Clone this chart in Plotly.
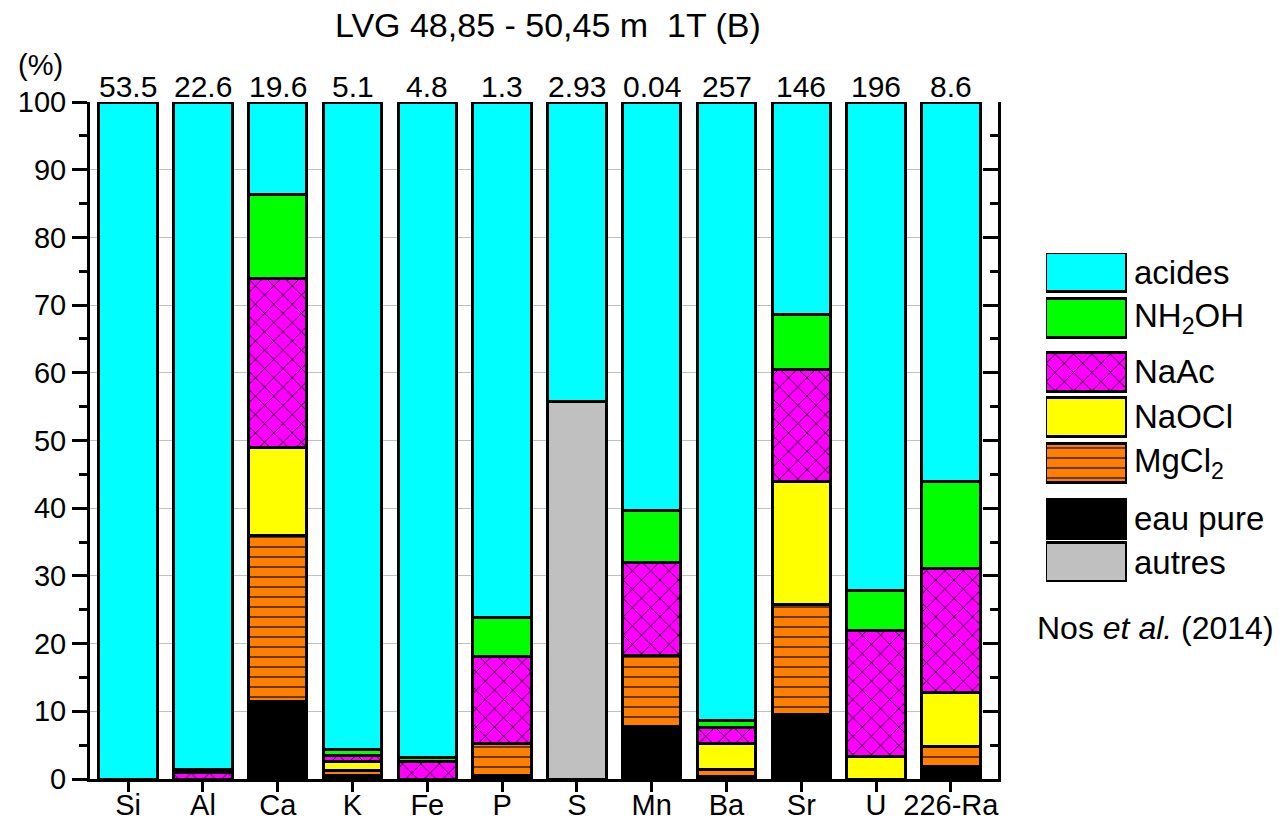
import plotly.graph_objects as go

# ---------------- data ----------------
categories = ["Si", "Al", "Ca", "K", "Fe", "P", "S", "Mn", "Ba", "Sr", "U", "226-Ra"]
total_labels = ["53.5", "22.6", "19.6", "5.1", "4.8", "1.3", "2.93", "0.04", "257", "146", "196", "8.6"]

eau_pure = [0, 0, 11.5, 0.5, 0, 0.5, 0, 7.8, 0.4, 9.6, 0, 1.8]
mgcl2 = [0, 0, 24.5, 0.8, 0, 4.8, 0, 10.5, 1.0, 16.2, 0, 3.0]
naocl = [0, 0, 13.0, 1.3, 0, 0, 0, 0, 3.8, 18.2, 3.3, 8.0]
naac = [0, 0.9, 25.0, 0.9, 2.6, 12.8, 0, 13.7, 2.4, 16.5, 18.7, 18.3]
nh2oh = [0, 0.5, 12.3, 0.9, 0.6, 5.8, 0, 7.7, 1.0, 8.1, 5.8, 12.8]
autres = [0, 0, 0, 0, 0, 0, 55.7, 0, 0, 0, 0, 0]
acides = [100, 98.6, 13.7, 95.6, 96.8, 76.1, 44.3, 60.3, 91.4, 31.4, 72.2, 56.1]

series_names = ["eau pure", "MgCl<sub>2</sub>", "NaOCl", "NaAc", "NH<sub>2</sub>OH", "autres", "acides"]
series_values = [eau_pure, mgcl2, naocl, naac, nh2oh, autres, acides]

# ---------------- styles ----------------
FONT = "Liberation Sans, Arial, Helvetica, sans-serif"
styles = {
    "eau pure": dict(color="#000000"),
    "MgCl<sub>2</sub>": dict(color="#ff8000", pattern=dict(shape="-", size=10, solidity=0.15,
                                                            fgcolor="#3a1e00", bgcolor="#ff8000", fillmode="replace")),
    "NaOCl": dict(color="#ffff00"),
    "NaAc": dict(color="#ff00ff", pattern=dict(shape="x", size=13, solidity=0.12,
                                               fgcolor="#000000", bgcolor="#ff00ff", fillmode="replace")),
    "NH<sub>2</sub>OH": dict(color="#00ff00"),
    "autres": dict(color="#c0c0c0"),
    "acides": dict(color="#00ffff"),
}

fig = go.Figure()

for name, vals in zip(series_names, series_values):
    st = styles[name]
    marker = dict(color=st["color"], line=dict(color="black", width=3))
    if "pattern" in st:
        marker["pattern"] = st["pattern"]
    fig.add_trace(go.Bar(
        x=categories,
        y=[v if v > 0 else None for v in vals],
        name=name,
        marker=marker,
        width=0.78,
        showlegend=False,
        xaxis="x", yaxis="y",
    ))

# dummy trace for right axis
fig.add_trace(go.Scatter(x=[categories[0]], y=[None], xaxis="x", yaxis="y2", showlegend=False, hoverinfo="skip"))

# ---------------- custom legend (inset axes) ----------------
legend_order = ["acides", "NH<sub>2</sub>OH", "NaAc", "NaOCl", "MgCl<sub>2</sub>", "eau pure", "autres"]
legend_centers = [272.5, 318.5, 372, 417, 463.5, 519, 562.5]
for name, yc in zip(legend_order, legend_centers):
    st = styles[name]
    marker = dict(color=st["color"], line=dict(color="black", width=3))
    if "pattern" in st:
        marker["pattern"] = st["pattern"]
    fig.add_trace(go.Bar(
        x=[1], y=[yc], orientation="h", width=39, base=0,
        marker=marker, showlegend=False, hoverinfo="skip",
        xaxis="x3", yaxis="y3",
    ))
    fig.add_annotation(
        x=1, y=yc, xref="x3", yref="y3", text=name, showarrow=False,
        xanchor="left", yanchor="middle", xshift=5,
        font=dict(family=FONT, size=33, color="black"),
    )

# value labels above bars
for cat, lab in zip(categories, total_labels):
    fig.add_annotation(
        x=cat, y=100, xref="x", yref="y", text=lab, showarrow=False,
        xanchor="center", yanchor="bottom", yshift=-3,
        font=dict(family=FONT, size=30, color="black"),
    )

# title
fig.add_annotation(
    x=0.387, y=1.1137, xref="paper", yref="paper",
    text="LVG 48,85 - 50,45 m&nbsp;&nbsp;1T (B)", showarrow=False,
    xanchor="center", yanchor="middle",
    font=dict(family=FONT, size=34, color="black"),
)
# (%)
fig.add_annotation(
    x=-0.0414, y=1.0547, xref="paper", yref="paper",
    text="(%)", showarrow=False, xanchor="center", yanchor="middle",
    font=dict(family=FONT, size=29, color="black"),
)
# citation
fig.add_annotation(
    x=0.7985, y=0.223, xref="paper", yref="paper",
    text="Nos <i>et al.</i> (2014)", showarrow=False, xanchor="left", yanchor="middle",
    font=dict(family=FONT, size=32, color="black"),
)

fig.update_layout(
    width=1284, height=829,
    margin=dict(l=90, r=10, t=102, b=50, autoexpand=False),
    barmode="stack",
    plot_bgcolor="white", paper_bgcolor="white",
    font=dict(family=FONT, size=29, color="black"),
    xaxis=dict(
        domain=[0, 0.7669], range=[-0.51, 11.63], automargin=False,
        showline=True, linecolor="black", linewidth=3,
        ticks="outside", ticklen=10, tickwidth=3, tickcolor="black",
        ticklabelstandoff=-12,
        tickfont=dict(family=FONT, size=29, color="black"),
        showgrid=False, zeroline=False, fixedrange=True,
    ),
    yaxis=dict(
        range=[0, 100], dtick=10, tick0=0, automargin=False,
        showline=True, linecolor="black", linewidth=3,
        ticks="outside", ticklen=15, tickwidth=3, tickcolor="black",
        tickfont=dict(family=FONT, size=29, color="black"),
        showgrid=True, gridcolor="#c0c0c0", gridwidth=1,
        zeroline=False,
        minor=dict(dtick=5, ticks="outside", ticklen=8, tickwidth=3, tickcolor="black", showgrid=False),
    ),
    yaxis2=dict(
        overlaying="y", side="right", anchor="x", range=[0, 100], dtick=10, automargin=False,
        showline=True, linecolor="black", linewidth=3,
        ticks="inside", ticklen=15, tickwidth=3, tickcolor="black",
        showticklabels=False, showgrid=False, zeroline=False,
        minor=dict(dtick=5, ticks="inside", ticklen=8, tickwidth=3, tickcolor="black", showgrid=False),
    ),
    xaxis3=dict(domain=[0.8074, 0.8758], range=[0, 1], anchor="y3", visible=False, fixedrange=True, automargin=False),
    yaxis3=dict(domain=[0.291, 0.777], range=[582, 253], anchor="x3", visible=False, fixedrange=True, automargin=False),
)

fig.write_html(
    "out.html",
    config={"displayModeBar": False},
    post_script="document.body.style.margin='0px';document.body.style.overflow='hidden';",
)
